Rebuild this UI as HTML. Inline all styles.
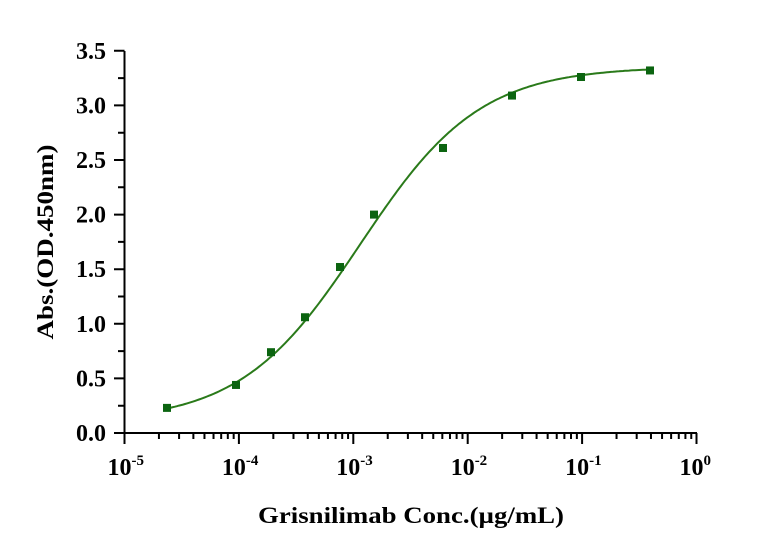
<!DOCTYPE html><html><head><style>body{margin:0;background:#fff}svg{display:block}text{font-family:"Liberation Serif",serif;font-weight:bold;fill:#000}</style></head><body>
<svg id="s" width="776" height="555" xmlns="http://www.w3.org/2000/svg">
<g stroke="#000" stroke-width="2" fill="none" id="ax"><path d="M124.5 51V433H697"/></g>
<text x="411" y="523" font-size="23" text-anchor="middle" textLength="306" lengthAdjust="spacingAndGlyphs">Grisnilimab Conc.(µg/mL)</text>
<text transform="translate(53,242) rotate(-90)" font-size="23" text-anchor="middle" textLength="195" lengthAdjust="spacingAndGlyphs">Abs.(OD.450nm)</text>
</svg>
<script>
const s=document.getElementById('s'),ns='http://www.w3.org/2000/svg';
const X=l=>124.5+(l+5)*114.4, Y=v=>433-v*109.2;
let d='';
for(let i=0;i<=7;i++){let y=Y(i*0.5);d+=`M114 ${y}H124.5`;
 let t=document.createElementNS(ns,'text');t.setAttribute('x',106);t.setAttribute('y',y+8);t.setAttribute('font-size','24');t.setAttribute('text-anchor','end');t.textContent=(i*0.5).toFixed(1);s.appendChild(t);
 if(i<7)d+=`M118 ${Y(i*0.5+0.25)}H124.5`;}
for(let e=-5;e<=0;e++){let x=X(e);d+=`M${x} 433V444`;
 let t=document.createElementNS(ns,'text');t.setAttribute('x',x-17);t.setAttribute('y',475);t.setAttribute('font-size','24');t.innerHTML=`10<tspan font-size="15" dy="-10">${e==0?'0':e}</tspan>`;s.appendChild(t);
 if(e<0)for(let k=2;k<=9;k++){let xx=X(e+Math.log10(k));d+=`M${xx} 433V439`;}}
let p=document.createElementNS(ns,'path');p.setAttribute('d',d);p.setAttribute('stroke','#000');p.setAttribute('stroke-width','2');s.appendChild(p);
const f=l=>0.1+(3.355-0.1)/(1+Math.pow(10,0.83*(-2.94-l)));
let c='';for(let x=167;x<=650;x+=2){let l=(x-124.5)/114.4-5;c+=(c?'L':'M')+x+' '+Y(f(l)).toFixed(1);}
let q=document.createElementNS(ns,'path');q.setAttribute('d',c);q.setAttribute('stroke','#2a7a1a');q.setAttribute('stroke-width','2');q.setAttribute('fill','none');s.appendChild(q);
const pts=[[167,0.23],[236,0.44],[271,0.74],[305,1.06],[340,1.52],[374,2.0],[443,2.61],[512,3.09],[581,3.26],[650,3.32]];
for(const[x,v]of pts){let r=document.createElementNS(ns,'rect');r.setAttribute('x',x-4);r.setAttribute('y',Y(v)-4);r.setAttribute('width',8);r.setAttribute('height',8);r.setAttribute('fill','#0b6410');s.appendChild(r);}
</script></body></html>
